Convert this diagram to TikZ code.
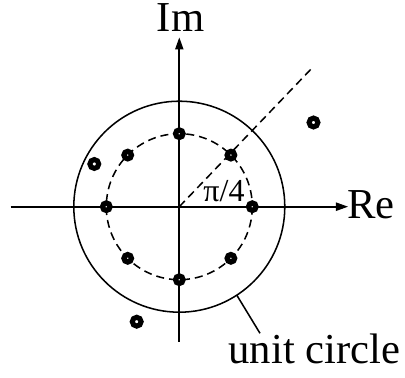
\documentclass[tikz,border=0pt]{standalone}
\usepackage{fontspec}
\setmainfont{Liberation Serif}

\tikzset{every picture/.style={line width=0.75pt}}
\tikzset{zero/.style={line width=4pt,fill=white}, pole/.style={line width=3.8pt,fill=white}}

\begin{document}
\begin{tikzpicture}[x=0.75pt,y=0.75pt,yscale=-1,xscale=1]
\useasboundingbox (0,0) rectangle (405,378); %diagram is 405 x 378

% named points
\coordinate (O) at (179.3,206.7);
\coordinate (reL) at (10.7,206.7);
\coordinate (reT) at (346.5,206.7);
\coordinate (imB) at (179.3,341.7);
\coordinate (imT) at (179.3,39);
\coordinate (rayEnd) at (313.5,66.5);
\coordinate (uc) at (236.7,295);
\coordinate (ucEnd) at (260,333.3);

%Shape: Circle [unit circle]
    \draw [line width=1.15pt] (O) circle [radius=105.5] ;
%Shape: Circle [dashed]
    \draw [line width=1.15pt, dash pattern=on 6pt off 3.75pt] (O) circle [radius=73] ;
%Straight Lines [ray]
    \draw [line width=1.15pt, dash pattern=on 6pt off 3.75pt] (O) -- (rayEnd) ;
%Straight Lines [Re axis]
    \draw [line width=1.5pt] (reL) -- ([xshift=-6]reT) ;
    \draw [shift={(reT)}, rotate=180][fill] (0,0) -- (10,-3.6) -- (10,3.6) -- cycle ;
%Straight Lines [Im axis]
    \draw [line width=1.5pt] (imB) -- ([yshift=6]imT) ;
    \draw [shift={(imT)}, rotate=90][fill] (0,0) -- (10,-3.6) -- (10,3.6) -- cycle ;
%Straight Lines [leader]
    \draw [line width=1.15pt] (uc) -- (ucEnd) ;

%Zeros
    \draw [zero] (252.3,206.7) circle [radius=3.7] ;
    \draw [zero] (230.9,155.1) circle [radius=3.7] ;
    \draw [zero] (179.3,133.7) circle [radius=3.7] ;
    \draw [zero] (127.7,155.1) circle [radius=3.7] ;
    \draw [zero] (106.3,206.7) circle [radius=3.7] ;
    \draw [zero] (127.7,258.3) circle [radius=3.7] ;
    \draw [zero] (179.3,279.7) circle [radius=3.7] ;
    \draw [zero] (230.9,258.3) circle [radius=3.7] ;
%Poles
    \draw [pole] (313.5,122.5) circle [radius=4.4] ;
    \draw [pole] (94.3,164) circle [radius=4.4] ;
    \draw [pole] (136.7,321.7) circle [radius=4.4] ;

% Text Node
    \draw (180.5,31.7) node (imLbl) [anchor=base][inner sep=0pt] {\fontsize{32}{32}\selectfont Im};
% Text Node
    \draw (347,218.3) node (reLbl) [anchor=base west][inner sep=0pt] {\fontsize{32}{32}\selectfont Re};
% Text Node
    \draw (203,201.7) node (angLbl) [anchor=base west][inner sep=0pt] {\fontsize{24}{24}\selectfont π/4};
% Text Node
    \draw (228,363.3) node (ucLbl) [anchor=base west][inner sep=0pt] {\fontsize{32}{32}\selectfont unit circle};

\end{tikzpicture}
\end{document}
